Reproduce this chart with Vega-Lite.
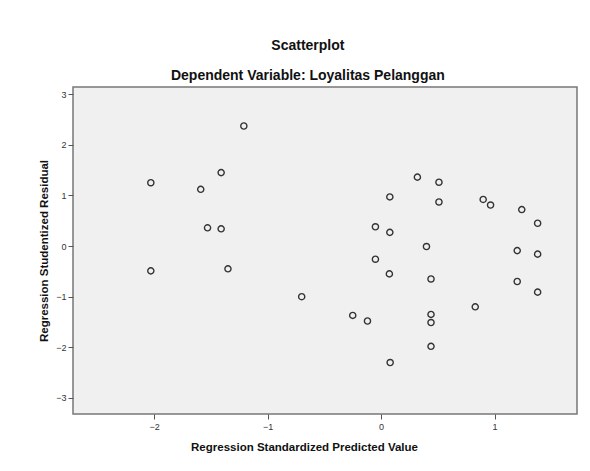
{
  "$schema": "https://vega.github.io/schema/vega-lite/v6.json",
  "width": 504,
  "height": 327,
  "autosize": {"type": "none"},
  "padding": {"left": 73, "top": 87, "right": 13, "bottom": 57},
  "background": "white",
  "title": {
    "text": "Scatterplot",
    "subtitle": "Dependent Variable: Loyalitas Pelanggan",
    "anchor": "middle",
    "frame": "bounds",
    "font": "Liberation Sans",
    "fontSize": 14,
    "fontWeight": "bold",
    "color": "#111",
    "subtitleFont": "Liberation Sans",
    "subtitleFontSize": 14,
    "subtitleFontWeight": "bold",
    "subtitleColor": "#111",
    "subtitlePadding": 16,
    "offset": 4
  },
  "config": {
    "view": {"fill": "#f0f0f0", "stroke": "#777", "strokeWidth": 1.5},
    "axis": {
      "grid": false,
      "domain": false,
      "tickColor": "#555",
      "tickSize": 5,
      "labelFont": "Liberation Sans",
      "labelFontSize": 9,
      "labelColor": "#333",
      "titleFont": "Liberation Sans",
      "titleFontSize": 11.5,
      "titleFontWeight": "bold",
      "titleColor": "#111"
    }
  },
  "data": {
    "values": [
      {"x": -1.21, "y": 2.37},
      {"x": -1.41, "y": 1.45},
      {"x": -2.03, "y": 1.25},
      {"x": -1.59, "y": 1.12},
      {"x": -1.53, "y": 0.36},
      {"x": -1.41, "y": 0.34},
      {"x": -2.03, "y": -0.49},
      {"x": -1.35, "y": -0.45},
      {"x": -0.70, "y": -1.00},
      {"x": 0.32, "y": 1.36},
      {"x": 0.51, "y": 1.26},
      {"x": 0.077, "y": 0.97},
      {"x": 0.51, "y": 0.87},
      {"x": 0.90, "y": 0.92},
      {"x": 0.965, "y": 0.81},
      {"x": 1.24, "y": 0.72},
      {"x": 1.38, "y": 0.45},
      {"x": -0.05, "y": 0.38},
      {"x": 0.077, "y": 0.27},
      {"x": 0.40, "y": -0.01},
      {"x": 1.20, "y": -0.09},
      {"x": 1.38, "y": -0.16},
      {"x": -0.05, "y": -0.26},
      {"x": 0.073, "y": -0.55},
      {"x": 0.44, "y": -0.65},
      {"x": 1.20, "y": -0.70},
      {"x": 1.38, "y": -0.91},
      {"x": 0.83, "y": -1.20},
      {"x": -0.25, "y": -1.37},
      {"x": -0.12, "y": -1.48},
      {"x": 0.44, "y": -1.35},
      {"x": 0.44, "y": -1.51},
      {"x": 0.44, "y": -1.98},
      {"x": 0.08, "y": -2.30}
    ]
  },
  "mark": {"type": "point", "shape": "circle", "filled": false, "size": 38, "stroke": "#333", "strokeWidth": 1.4, "opacity": 1},
  "encoding": {
    "x": {
      "field": "x",
      "type": "quantitative",
      "scale": {"domain": [-2.716, 1.727], "nice": false, "zero": false},
      "axis": {"values": [-2, -1, 0, 1], "title": "Regression Standardized Predicted Value", "titlePadding": 10, "titleX": 231, "labelPadding": 3}
    },
    "y": {
      "field": "y",
      "type": "quantitative",
      "scale": {"domain": [-3.316, 3.14], "nice": false, "zero": false},
      "axis": {"values": [-3, -2, -1, 0, 1, 2, 3], "title": "Regression Studentized Residual", "titlePadding": 6, "labelPadding": 2}
    }
  }
}
